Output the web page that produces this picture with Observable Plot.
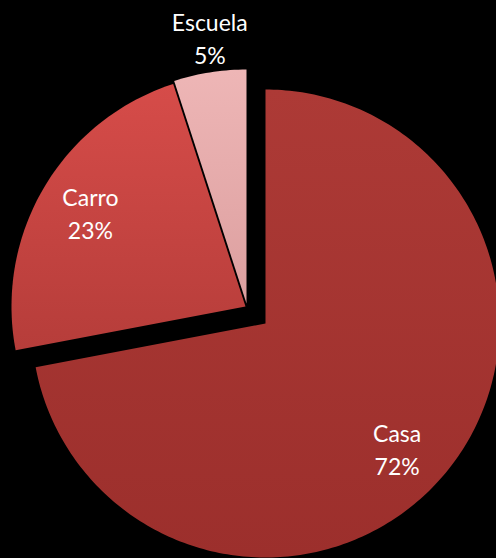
<!DOCTYPE html>
<html>
<head>
<meta charset="utf-8">
<script src="https://cdn.jsdelivr.net/npm/d3@7"></script>
<script src="https://cdn.jsdelivr.net/npm/@observablehq/plot@0.6"></script>
<style>
  html, body { margin: 0; padding: 0; background: #000; }
  #chart svg { display: block; background: #000; }
</style>
</head>
<body>
<div id="chart"></div>
<script>
// ---- data ----
const categories = ["Casa", "Carro", "Escuela"];
const values = [72, 23, 5];
const percentLabels = ["72%", "23%", "5%"];

// ---- style ----
const W = 496, H = 558;
const R = 234;                 // pie radius in px
const CX = 255, CY = 314;      // pie centre in px
// explode offsets (px) for each slice
const explodePx = {Casa: [10, 9], Carro: [-10, -8], Escuela: [-9, -11]};
const labelRadius = {Casa: 0.78, Carro: 0.78, Escuela: 1.14};
const labelNudge = {Casa: [-9, 8], Carro: [2, -2], Escuela: [5, -3]};
const gradients = {
  Casa: ["#ad3a36", "#9c2f2c"],
  Carro: ["#d64c49", "#b63d3a"],
  Escuela: ["#eeb6b6", "#dc9f9f"]
};

// ---- geometry from data ----
const arcs = d3.pie().sort(null).value(d => d)(values);
const slices = arcs.map((a, i) => {
  const name = categories[i];
  const [ex, ey] = explodePx[name];
  const ox = ex / R, oy = -ey / R;
  const pts = [{name, x: ox, y: oy}];
  const n = Math.max(4, Math.ceil((a.endAngle - a.startAngle) / (Math.PI / 180)));
  for (let k = 0; k <= n; k++) {
    const t = a.startAngle + (a.endAngle - a.startAngle) * k / n;
    pts.push({name, x: ox + Math.sin(t), y: oy + Math.cos(t)});
  }
  pts.push({name, x: ox, y: oy});
  const mid = (a.startAngle + a.endAngle) / 2;
  const lr = labelRadius[name];
  const label = {name, text: name + "\n" + percentLabels[i], x: ox + lr * Math.sin(mid), y: oy + lr * Math.cos(mid)};
  return {name, pts, label};
});

const xDomain = [-CX / R, (W - CX) / R];
const yDomain = [-(H - CY) / R, CY / R];

const marks = slices.map(s =>
  Plot.line(s.pts, {x: "x", y: "y", fill: `url(#grad-${s.name})`, stroke: "none", curve: "linear"})
);
for (const s of slices) {
  marks.push(Plot.text([s.label], {
    x: "x", y: "y", text: "text", fill: "white",
    dx: labelNudge[s.name][0], dy: labelNudge[s.name][1],
    fontSize: 23, fontFamily: "Lato", lineHeight: 1.43, lineAnchor: "middle", textAnchor: "middle"
  }));
}

const chart = Plot.plot({
  width: W, height: H,
  margin: 0,
  style: {background: "#000", overflow: "hidden"},
  x: {domain: xDomain, axis: null},
  y: {domain: yDomain, axis: null},
  marks
});

const svg = d3.select(chart);
const defs = svg.insert("defs", ":first-child");
for (const name of categories) {
  const g = defs.append("linearGradient").attr("id", `grad-${name}`)
    .attr("x1", 0).attr("y1", 0).attr("x2", 0).attr("y2", 1);
  g.append("stop").attr("offset", "0%").attr("stop-color", gradients[name][0]);
  g.append("stop").attr("offset", "100%").attr("stop-color", gradients[name][1]);
}
document.getElementById("chart").appendChild(chart);
</script>
</body>
</html>
